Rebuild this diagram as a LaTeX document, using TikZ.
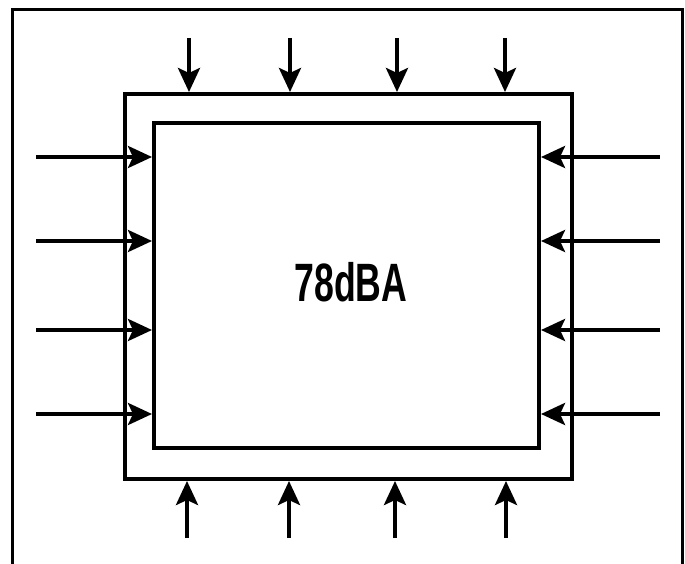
\documentclass[tikz,border=0pt]{standalone}
\usepackage{fontspec}
\usetikzlibrary{arrows.meta}
\newfontfamily\levelfont{Liberation Sans}[FakeStretch=0.66]
\tikzset{
  box/.style={draw,line width=4pt,inner sep=0pt},
  flow/.style={line width=4pt,-{Stealth[length=24pt,width=22pt,inset=5pt]}}
}
\begin{document}
\begin{tikzpicture}[x=1pt,y=-1pt]
  \useasboundingbox (0,0) rectangle (685,564);
  % outer frame
  \draw[line width=3pt] (12,564) -- (12,10) -- (682,10) -- (682,564);
  % enclosure and room
  \node[box,minimum width=447pt,minimum height=385pt] (shell) at (348.5,286.5) {};
  \node[box,minimum width=385pt,minimum height=325pt] (room) at (346.5,285.5) {};
  \node[font=\levelfont\bfseries\fontsize{54}{54}\selectfont] (level) at (351,282) {78dBA};
  % noise from above and below
  \foreach \x [count=\i] in {189,290,397,505} {
    \coordinate (top\i) at (\x,38);
    \draw[flow] (top\i) -- (top\i |- shell.north);
  }
  \foreach \x [count=\i] in {187,289,395,506} {
    \coordinate (bot\i) at (\x,538);
    \draw[flow] (bot\i) -- (bot\i |- shell.south);
  }
  % noise from the sides
  \foreach \y [count=\i] in {157,241,330,414} {
    \coordinate (lft\i) at (36,\y);
    \coordinate (rgt\i) at (660,\y);
    \draw[flow] (lft\i) -- (lft\i -| room.west);
    \draw[flow] (rgt\i) -- (rgt\i -| room.east);
  }
\end{tikzpicture}
\end{document}
